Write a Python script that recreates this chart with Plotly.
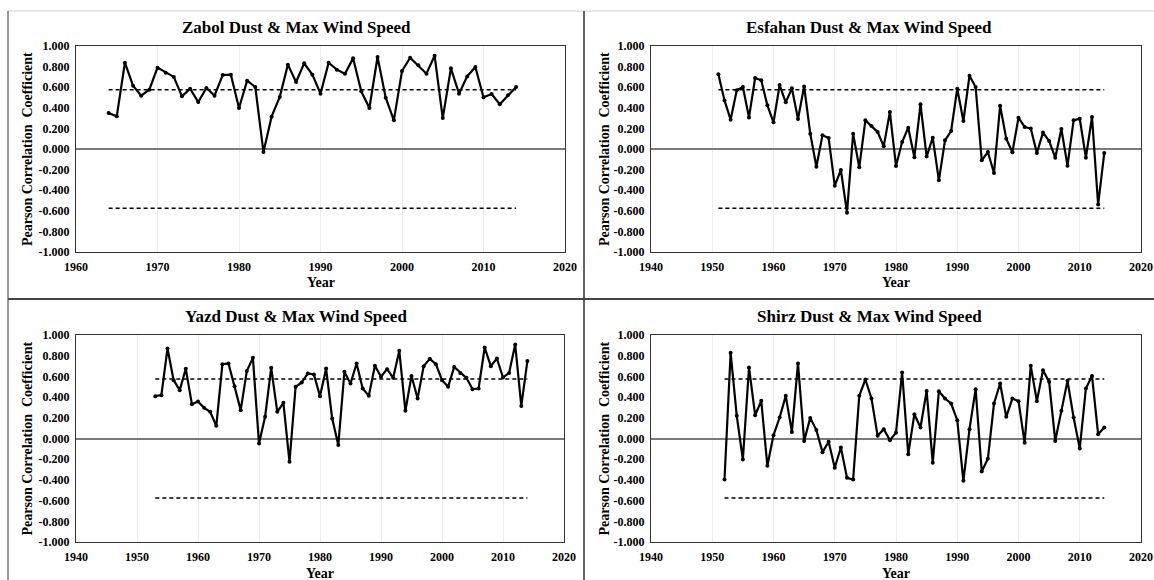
import plotly.graph_objects as go

# ---------------- data ----------------
zabol_years = list(range(1964, 2015))
zabol_r = [0.350, 0.317, 0.838, 0.615, 0.518, 0.576, 0.790, 0.741, 0.700, 0.511,
           0.586, 0.456, 0.592, 0.518, 0.718, 0.722, 0.398, 0.663, 0.602, -0.030,
           0.314, 0.505, 0.819, 0.650, 0.832, 0.722, 0.537, 0.838, 0.770, 0.731,
           0.880, 0.560, 0.398, 0.893, 0.498, 0.278, 0.757, 0.887, 0.812, 0.731,
           0.906, 0.300, 0.783, 0.537, 0.705, 0.796, 0.502, 0.534, 0.434, 0.521,
           0.602]

esfahan_years = list(range(1951, 2015))
esfahan_r = [0.725, 0.472, 0.285, 0.570, 0.602, 0.307, 0.689, 0.667, 0.424, 0.259,
             0.621, 0.453, 0.589, 0.291, 0.608, 0.149, -0.172, 0.133, 0.107, -0.356,
             -0.204, -0.618, 0.149, -0.178, 0.278, 0.223, 0.165, 0.026, 0.359, -0.165,
             0.068, 0.207, -0.081, 0.434, -0.074, 0.110, -0.304, 0.084, 0.175, 0.586,
             0.272, 0.712, 0.602, -0.110, -0.029, -0.233, 0.421, 0.100, -0.032, 0.304,
             0.214, 0.200, -0.039, 0.159, 0.078, -0.084, 0.194, -0.162, 0.278, 0.294,
             -0.084, 0.311, -0.540, -0.039]

yazd_years = list(range(1953, 2015))
yazd_r = [0.409, 0.419, 0.870, 0.564, 0.467, 0.673, 0.332, 0.357, 0.296, 0.258,
          0.122, 0.718, 0.725, 0.506, 0.274, 0.651, 0.779, -0.048, 0.209, 0.683,
          0.258, 0.345, -0.225, 0.499, 0.541, 0.628, 0.618, 0.409, 0.676, 0.193,
          -0.064, 0.644, 0.531, 0.725, 0.483, 0.412, 0.702, 0.596, 0.670, 0.586,
          0.847, 0.267, 0.605, 0.386, 0.699, 0.770, 0.718, 0.564, 0.499, 0.692,
          0.634, 0.586, 0.477, 0.483, 0.879, 0.699, 0.773, 0.589, 0.634, 0.908,
          0.315, 0.750]

shirz_years = list(range(1952, 2015))
shirz_r = [-0.396, 0.828, 0.219, -0.203, 0.686, 0.225, 0.364, -0.264, 0.032, 0.203,
           0.412, 0.064, 0.725, -0.023, 0.199, 0.081, -0.132, -0.032, -0.283, -0.087,
           -0.380, -0.396, 0.412, 0.570, 0.387, 0.026, 0.090, -0.016, 0.055, 0.638,
           -0.151, 0.235, 0.106, 0.460, -0.235, 0.457, 0.386, 0.338, 0.177, -0.409,
           0.090, 0.477, -0.319, -0.196, 0.338, 0.531, 0.209, 0.386, 0.361, -0.042,
           0.702, 0.361, 0.660, 0.548, -0.023, 0.267, 0.557, 0.203, -0.097, 0.483,
           0.605, 0.042, 0.106]

critical_r = 0.576
y_ticks = [-1.0, -0.8, -0.6, -0.4, -0.2, 0.0, 0.2, 0.4, 0.6, 0.8, 1.0]
x_ticks_zabol = [1960, 1970, 1980, 1990, 2000, 2010, 2020]
x_ticks_other = [1940, 1950, 1960, 1970, 1980, 1990, 2000, 2010, 2020]

panels = [
    ("Zabol Dust & Max Wind Speed", zabol_years, zabol_r, x_ticks_zabol),
    ("Esfahan Dust & Max Wind Speed", esfahan_years, esfahan_r, x_ticks_other),
    ("Yazd Dust & Max Wind Speed", yazd_years, yazd_r, x_ticks_other),
    ("Shirz Dust & Max Wind Speed", shirz_years, shirz_r, x_ticks_other),
]

# ---------------- layout geometry (pixels) ----------------
W, H = 1154, 580
plot_boxes = [(76, 565, 46, 252), (651, 1141, 46, 252),
              (76, 564, 335, 542), (651, 1141, 335, 542)]
panel_centers = [296, 869, 296, 869]
title_y = [27, 27, 316, 316]
ytitle_x = [27, 604, 27, 604]
year_y = [283, 283, 573, 573]

FONT = "Liberation Serif"

def px_x(p):
    return p / W

def px_y(p):
    return 1 - p / H

fig = go.Figure()
annotations = []

for i, (title, yrs, vals, xt) in enumerate(panels):
    n = "" if i == 0 else str(i + 1)
    xa, ya = "x" + n, "y" + n
    fig.add_trace(go.Scatter(
        x=yrs, y=vals, mode="lines+markers", xaxis=xa, yaxis=ya,
        line=dict(color="black", width=2.2),
        marker=dict(color="black", size=4), showlegend=False, hoverinfo="skip"))
    for c in (critical_r, -critical_r):
        fig.add_trace(go.Scatter(
            x=[yrs[0], yrs[-1]], y=[c, c], mode="lines", xaxis=xa, yaxis=ya,
            line=dict(color="black", width=1.5, dash="4px,3px"), showlegend=False,
            hoverinfo="skip"))
    x0, x1, y0, y1 = plot_boxes[i]
    axis_font = dict(family=FONT, size=12, color="black", weight="bold")
    fig.layout["xaxis" + n] = dict(
        domain=[px_x(x0), px_x(x1)], anchor=ya, range=[xt[0], xt[-1]],
        tickvals=xt, ticktext=[str(t) for t in xt], tickfont=axis_font,
        showgrid=True, gridcolor="#ececec", gridwidth=1, automargin=False,
        showline=True, linecolor="#333", linewidth=1, mirror=True,
        ticks="outside", ticklen=4, tickcolor="rgba(0,0,0,0)", zeroline=False)
    fig.layout["yaxis" + n] = dict(
        domain=[px_y(y1), px_y(y0)], anchor=xa, range=[-1, 1], automargin=False,
        tickvals=y_ticks, ticktext=[f"{t:.3f}" for t in y_ticks], tickfont=axis_font,
        showgrid=False, showline=True, linecolor="#333", linewidth=1, mirror=True,
        zeroline=True, zerolinecolor="#7a7a7a", zerolinewidth=1.5,
        ticks="outside", ticklen=3, tickcolor="rgba(0,0,0,0)")
    annotations.append(dict(
        text=title, x=px_x(panel_centers[i]), y=px_y(title_y[i]), xref="paper", yref="paper",
        xanchor="center", yanchor="middle", showarrow=False,
        font=dict(family=FONT, size=17, color="black", weight="bold")))
    annotations.append(dict(
        text="Pearson Correlation  Coefficient", x=px_x(ytitle_x[i]), y=px_y((y0 + y1) / 2),
        xref="paper", yref="paper", xanchor="center", yanchor="middle", showarrow=False,
        textangle=-90, font=dict(family=FONT, size=14, color="black", weight="bold")))
    annotations.append(dict(
        text="Year", x=px_x((x0 + x1) / 2), y=px_y(year_y[i]), xref="paper", yref="paper",
        xanchor="center", yanchor="middle", showarrow=False,
        font=dict(family=FONT, size=14, color="black", weight="bold")))

shapes = [
    dict(type="line", xref="paper", yref="paper", x0=px_x(8), x1=1, y0=px_y(11), y1=px_y(11),
         line=dict(color="#cfcfcf", width=1)),
    dict(type="line", xref="paper", yref="paper", x0=px_x(8), x1=px_x(8), y0=px_y(11), y1=0,
         line=dict(color="#333", width=1)),
    dict(type="line", xref="paper", yref="paper", x0=px_x(584), x1=px_x(584), y0=px_y(11), y1=0,
         line=dict(color="#333", width=1.5)),
    dict(type="line", xref="paper", yref="paper", x0=px_x(8), x1=1, y0=px_y(299), y1=px_y(299),
         line=dict(color="#444", width=2)),
]

fig.update_layout(
    template="none",
    width=W, height=H, autosize=False,
    margin=dict(l=0, r=0, t=0, b=0, pad=0),
    paper_bgcolor="white", plot_bgcolor="white",
    annotations=annotations, shapes=shapes,
    font=dict(family=FONT, color="black"),
    showlegend=False,
)

fig.write_html("out.html", config={"displayModeBar": False},
               post_script="document.body.style.margin='0';")
